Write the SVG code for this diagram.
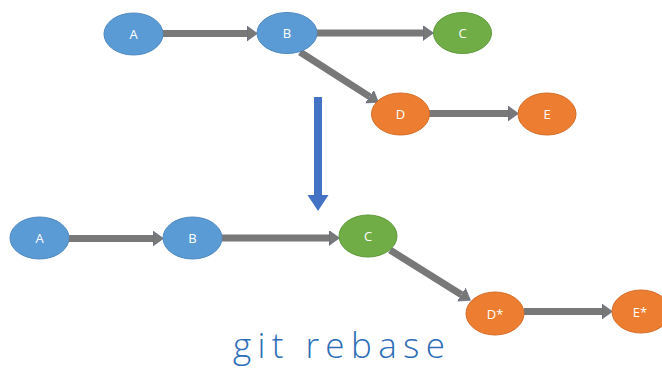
<svg xmlns="http://www.w3.org/2000/svg" width="662" height="368" viewBox="0 0 662 368">
<defs>
<style>
.blue{fill:#5B9BD5;stroke:#4F89C0;stroke-width:1}
.green{fill:#70AD47;stroke:#5E9A3A;stroke-width:1}
.orange{fill:#ED7D31;stroke:#D46C26;stroke-width:1}
.lbl{font-family:"Open Sans","Liberation Sans",sans-serif;font-size:13px;fill:#FFFFFF;text-anchor:middle;dominant-baseline:central}
.conn{stroke:#787878;stroke-width:7;fill:none;marker-end:url(#head)}
.title{font-family:"Open Sans","Liberation Sans",sans-serif;font-weight:300;font-size:35px;fill:#2E6DB8}
</style>
<marker id="head" markerUnits="userSpaceOnUse" markerWidth="12" markerHeight="16" refX="0" refY="7.5" orient="auto">
<path d="M0,0 L10.5,7.5 L0,15 Z" fill="#787878" stroke="#5A6580" stroke-width="0.6"/>
</marker>
</defs>
<rect width="662" height="368" fill="#FFFFFF"/>
<g id="connectors">
<line class="conn" x1="163" y1="33.5" x2="247" y2="33.5"/>
<line class="conn" x1="317" y1="33" x2="423" y2="33"/>
<line class="conn" x1="300" y1="52" x2="369.6" y2="96.6"/>
<line class="conn" x1="429" y1="113.5" x2="508" y2="113.5"/>
<line class="conn" x1="69" y1="238.5" x2="153" y2="238.5"/>
<line class="conn" x1="222" y1="238" x2="329" y2="238"/>
<line class="conn" x1="390" y1="250" x2="461.5" y2="294.7"/>
<line class="conn" x1="524" y1="311.5" x2="602" y2="311.5"/>
</g>
<g id="rebase-arrow">
<path d="M314,97 L322,97 L322,195 L328.5,195 L318,211 L307.5,195 L314,195 Z" fill="#4472C4"/>
</g>
<g id="top-A"><ellipse class="blue" cx="133.5" cy="34" rx="29.5" ry="21"/><text class="lbl" x="133.5" y="34">A</text></g>
<g id="top-B"><ellipse class="blue" cx="287" cy="33" rx="30" ry="20.5"/><text class="lbl" x="287" y="33">B</text></g>
<g id="top-C"><ellipse class="green" cx="462.5" cy="33" rx="29" ry="20.5"/><text class="lbl" x="462.5" y="33">C</text></g>
<g id="top-D"><ellipse class="orange" cx="400.5" cy="114" rx="29" ry="21"/><text class="lbl" x="400.5" y="114">D</text></g>
<g id="top-E"><ellipse class="orange" cx="547" cy="114" rx="29" ry="21"/><text class="lbl" x="547" y="114">E</text></g>
<g id="bot-A"><ellipse class="blue" cx="39.5" cy="238" rx="29.5" ry="21"/><text class="lbl" x="39.5" y="238">A</text></g>
<g id="bot-B"><ellipse class="blue" cx="192.5" cy="238" rx="29.5" ry="21"/><text class="lbl" x="192.5" y="238">B</text></g>
<g id="bot-C"><ellipse class="green" cx="368" cy="236" rx="29" ry="21"/><text class="lbl" x="368" y="236">C</text></g>
<g id="bot-Dstar"><ellipse class="orange" cx="495" cy="313.5" rx="29" ry="21.5"/><text class="lbl" x="495" y="313.5">D*</text></g>
<g id="bot-Estar"><ellipse class="orange" cx="641" cy="311.5" rx="29" ry="21.5"/><text class="lbl" x="640" y="311.5">E*</text></g>
<text class="title" x="233" y="358" textLength="212" lengthAdjust="spacing">git rebase</text>
</svg>
